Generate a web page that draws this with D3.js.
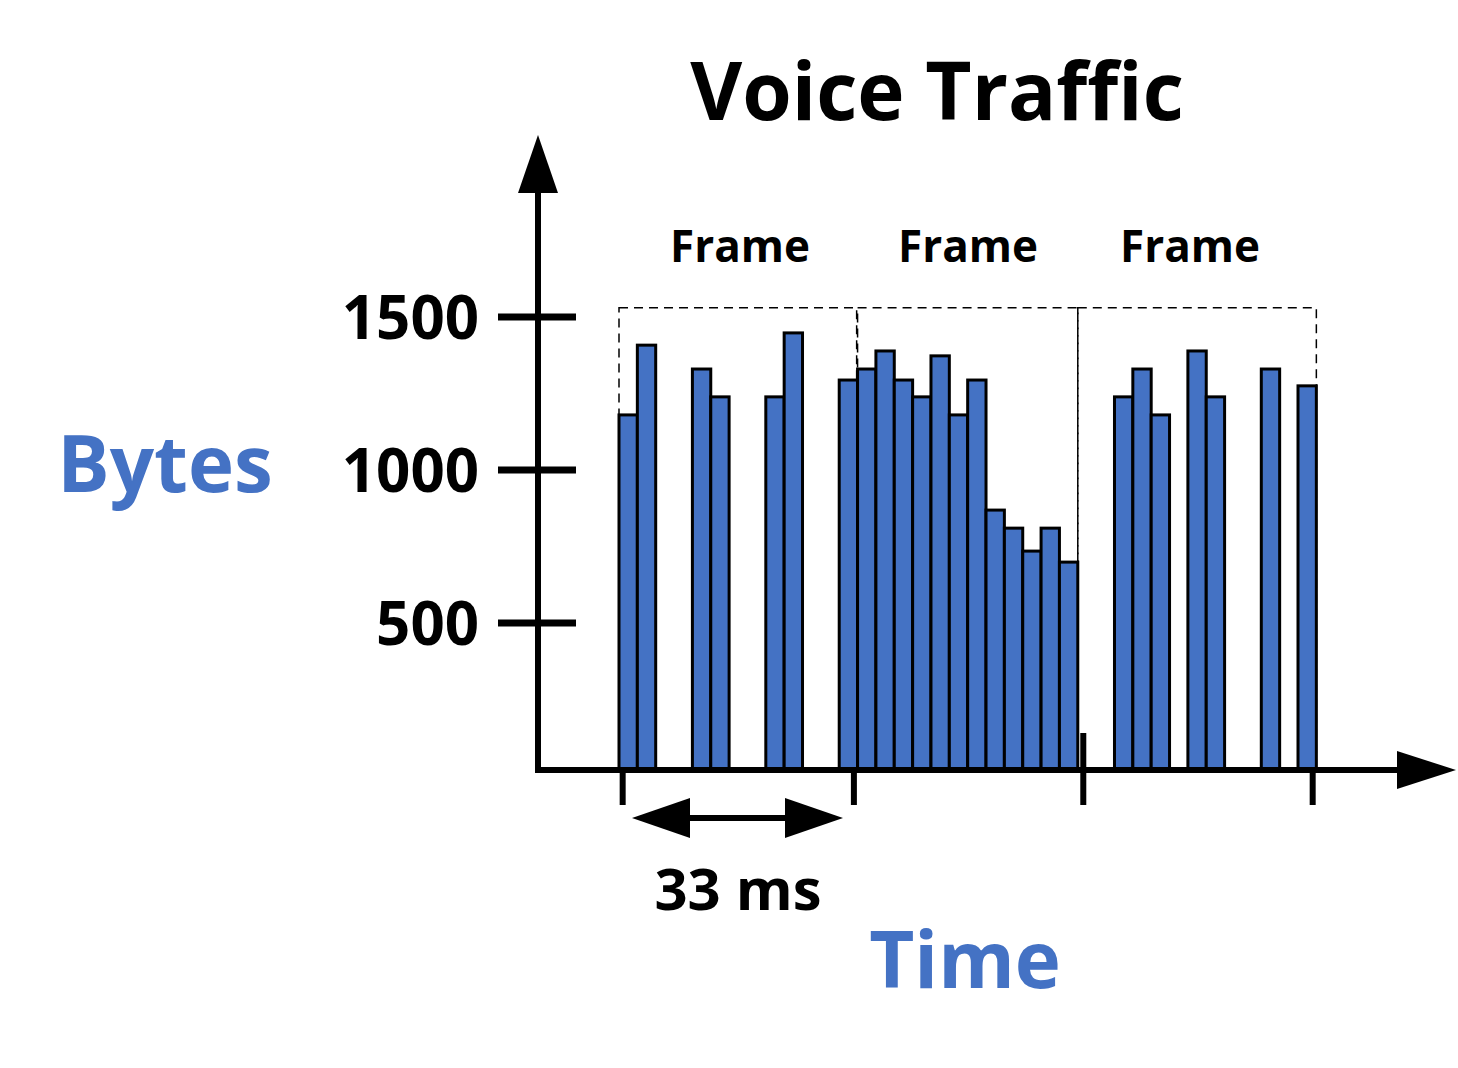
<!DOCTYPE html>
<html lang="en">
<head>
<meta charset="UTF-8">
<title>Voice Traffic</title>
<script src="https://d3js.org/d3.v7.min.js"></script>
<style>
  body { margin: 0; background: #fff; }
  text { font-family: "Open Sans", "Noto Sans", sans-serif; font-weight: 700; }
</style>
</head>
<body>
<div id="chart"></div>
<script>
// packets: slot index (packet slot in time) and size in bytes
const slots = [0, 1, 4, 5, 8, 9,
  12, 13, 14, 15, 16, 17, 18, 19, 20, 21, 22, 23, 24,
  27, 28, 29, 31, 32, 35, 37];
const bytes = [1180, 1408, 1330, 1239, 1239, 1448,
  1294, 1330, 1389, 1294, 1239, 1373, 1180, 1294, 869, 810, 735, 810, 699,
  1239, 1330, 1180, 1389, 1239, 1330, 1275];
const yTicks = [500, 1000, 1500];
const frameLabels = ["Frame", "Frame", "Frame"];
const frameBounds = [0, 13, 25, 38];     // in slots
const timeTicks = [0.2, 12.8, 25.3, 37.8]; // frame boundaries, 33 ms apart

const width = 1458, height = 1068, blue = "#4472C4";
const svg = d3.select("#chart").append("svg")
    .attr("width", width).attr("height", height);

const x = d3.scaleLinear().domain([0, 37]).range([619, 1298]);
const bw = x(1) - x(0);
const y = d3.scaleLinear().domain([500, 1500]).range([623, 317]);
const axisY = 770, axisX = 538;

// dashed frame boxes
svg.selectAll(".frame").data(d3.range(3)).enter().append("rect")
    .attr("x", i => x(frameBounds[i]))
    .attr("y", y(1530))
    .attr("width", i => x(frameBounds[i + 1]) - x(frameBounds[i]) - (i == 0 ? bw * 0.05 : 0))
    .attr("height", axisY - y(1530))
    .attr("fill", "none").attr("stroke", "#000").attr("stroke-width", 1.5)
    .attr("stroke-dasharray", "9,6");

// bars
svg.selectAll(".bar").data(bytes).enter().append("rect")
    .attr("x", (d, i) => x(slots[i]))
    .attr("y", d => y(d))
    .attr("width", bw)
    .attr("height", d => axisY - y(d))
    .attr("fill", blue).attr("stroke", "#000").attr("stroke-width", 3);

// axes
svg.append("line").attr("x1", axisX).attr("x2", axisX).attr("y1", axisY + 3).attr("y2", 185)
    .attr("stroke", "#000").attr("stroke-width", 6);
svg.append("path").attr("d", `M${axisX - 20},193 L${axisX},135 L${axisX + 20},193 Z`).attr("fill", "#000");
svg.append("line").attr("x1", axisX - 3).attr("x2", 1405).attr("y1", axisY).attr("y2", axisY)
    .attr("stroke", "#000").attr("stroke-width", 6);
svg.append("path").attr("d", `M1397,${axisY - 19} L1456,${axisY} L1397,${axisY + 19} Z`).attr("fill", "#000");

// y ticks
yTicks.forEach(t => {
  svg.append("line").attr("x1", 498).attr("x2", 576).attr("y1", y(t)).attr("y2", y(t))
      .attr("stroke", "#000").attr("stroke-width", 7);
  svg.append("text").attr("x", 479).attr("y", y(t) + 22).attr("text-anchor", "end")
      .attr("font-size", 60).text(t);
});

// time ticks
timeTicks.forEach((t, i) => {
  svg.append("line").attr("x1", x(t)).attr("x2", x(t))
      .attr("y1", i == 2 ? 733 : axisY).attr("y2", 805)
      .attr("stroke", "#000").attr("stroke-width", 6);
});

// frame labels
frameLabels.forEach((f, i) => {
  svg.append("text").attr("x", [740, 968, 1190][i]).attr("y", 262)
      .attr("text-anchor", "middle").attr("font-size", 44).text(f);
});

// 33 ms double arrow
svg.append("line").attr("x1", 680).attr("x2", 795).attr("y1", 818).attr("y2", 818)
    .attr("stroke", "#000").attr("stroke-width", 6);
svg.append("path").attr("d", "M632,818 L690,798 L690,838 Z").attr("fill", "#000");
svg.append("path").attr("d", "M843,818 L785,798 L785,838 Z").attr("fill", "#000");
svg.append("text").attr("x", 738).attr("y", 910).attr("text-anchor", "middle")
    .attr("font-size", 58).text("33 ms");

// titles
svg.append("text").attr("x", 937).attr("y", 120).attr("text-anchor", "middle")
    .attr("font-size", 80).text("Voice Traffic");
svg.append("text").attr("x", 165).attr("y", 492).attr("text-anchor", "middle")
    .attr("font-size", 78).attr("fill", blue).text("Bytes");
svg.append("text").attr("x", 965).attr("y", 988).attr("text-anchor", "middle")
    .attr("font-size", 78).attr("fill", blue).text("Time");
</script>
</body>
</html>
